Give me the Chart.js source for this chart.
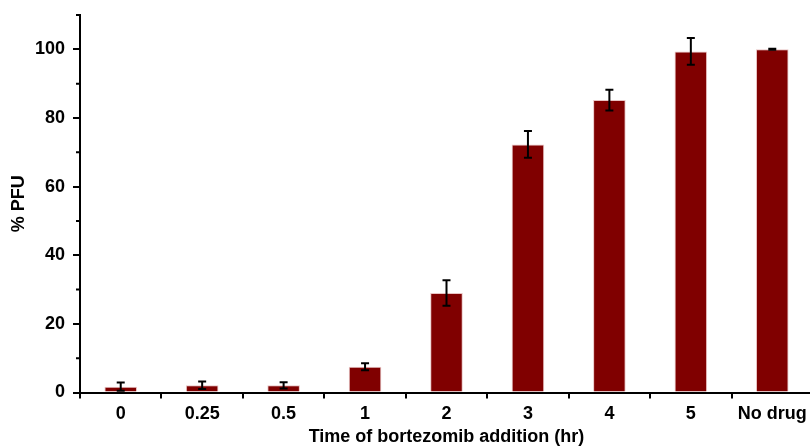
<!DOCTYPE html>
<html>
<head>
<meta charset="utf-8">
<script src="https://cdn.jsdelivr.net/npm/chart.js@4.4.0/dist/chart.umd.min.js"></script>
<style>
    html, body { margin: 0; padding: 0; background: #fff; overflow: hidden; }
    #wrap { width: 814px; height: 448px; }
</style>
</head>
<body>
<div id="wrap"><canvas id="pfuChart"></canvas></div>
<script>
const categories = ["0", "0.25", "0.5", "1", "2", "3", "4", "5", "No drug"];
const pfuValues = [1.7, 2.1, 2.1, 7.5, 29.0, 72.3, 85.2, 99.4, 100.0];
const pfuErrors = [1.2, 1.1, 0.9, 1.0, 3.7, 3.9, 3.0, 3.9, 0.15];
const yTickLabels = [0, 20, 40, 60, 80, 100];
const yMinorTicks = [10, 30, 50, 70, 90, 110];

const fontFamily = "'Liberation Sans', Arial, Helvetica, sans-serif";

// error bars + short minor ticks, placed with the chart's own scales
const errorBarPlugin = {
    id: "errorBars",
    afterDraw(chart) {
        const ctx = chart.ctx;
        const yScale = chart.scales.y;
        ctx.save();
        ctx.strokeStyle = "#000";
        ctx.lineWidth = 2;
        ctx.beginPath();
        yMinorTicks.forEach(v => {
            const y = yScale.getPixelForValue(v);
            ctx.moveTo(yScale.right - 4, y);
            ctx.lineTo(yScale.right, y);
        });
        ctx.stroke();
        ctx.restore();
    },
    afterDatasetsDraw(chart) {
        const ctx = chart.ctx;
        const meta = chart.getDatasetMeta(0);
        const yScale = chart.scales.y;
        ctx.save();
        ctx.strokeStyle = "#000";
        ctx.lineWidth = 2;
        meta.data.forEach((bar, i) => {
            const x = bar.x;
            const top = yScale.getPixelForValue(pfuValues[i] + pfuErrors[i]);
            const bottom = yScale.getPixelForValue(pfuValues[i] - pfuErrors[i]);
            ctx.beginPath();
            ctx.moveTo(x, top);
            ctx.lineTo(x, bottom);
            ctx.moveTo(x - 4, top);
            ctx.lineTo(x + 4, top);
            ctx.moveTo(x - 4, bottom);
            ctx.lineTo(x + 4, bottom);
            ctx.stroke();
        });
        ctx.restore();
    }
};

const ctx = document.getElementById("pfuChart").getContext("2d");
new Chart(ctx, {
    type: "bar",
    data: {
        labels: categories,
        datasets: [{
            label: "% PFU",
            data: pfuValues,
            backgroundColor: "#800000",
            borderColor: "#e9c4c4",
            borderWidth: 1,
            barPercentage: 0.4,
            categoryPercentage: 1.0
        }]
    },
    options: {
        responsive: true,
        maintainAspectRatio: false,
        animation: false,
        layout: { padding: { top: 15, right: 1, left: 0, bottom: 0 } },
        plugins: {
            legend: { display: false },
            tooltip: { enabled: false }
        },
        scales: {
            x: {
                grid: {
                    offset: true,
                    drawOnChartArea: false,
                    color: "#000",
                    tickColor: "#000",
                    tickLength: 6,
                    lineWidth: 2
                },
                border: { color: "#000", width: 2 },
                ticks: {
                    color: "#000",
                    padding: 5,
                    maxRotation: 0,
                    autoSkip: false,
                    font: { family: fontFamily, size: 18, weight: "bold" }
                },
                title: {
                    display: true,
                    text: "Time of bortezomib addition (hr)",
                    color: "#000",
                    padding: { top: 0, bottom: 0 },
                    font: { family: fontFamily, size: 18, weight: "bold" }
                },
                afterFit(scale) {
                    scale.height = 55.5;
                    scale.paddingLeft = 0;
                    scale.paddingRight = 0;
                }
            },
            y: {
                min: 0,
                max: 110,
                grid: {
                    drawOnChartArea: false,
                    color: "#000",
                    tickColor: (c) => yTickLabels.includes(c.tick && c.tick.value) ? "#000" : "rgba(0,0,0,0)",
                    tickLength: 7,
                    lineWidth: 2
                },
                border: { color: "#000", width: 2 },
                ticks: {
                    stepSize: 10,
                    color: "#000",
                    padding: 8,
                    font: { family: fontFamily, size: 18, weight: "bold" },
                    callback: (v) => yTickLabels.includes(v) ? String(v) : ""
                },
                title: {
                    display: true,
                    text: "% PFU",
                    color: "#000",
                    padding: { top: 8, bottom: 0 },
                    font: { family: fontFamily, size: 18, weight: "bold" }
                },
                afterFit(scale) {
                    scale.width = 80;
                    scale.paddingTop = 0;
                    scale.paddingBottom = 0;
                }
            }
        }
    },
    plugins: [errorBarPlugin]
});
</script>
</body>
</html>
